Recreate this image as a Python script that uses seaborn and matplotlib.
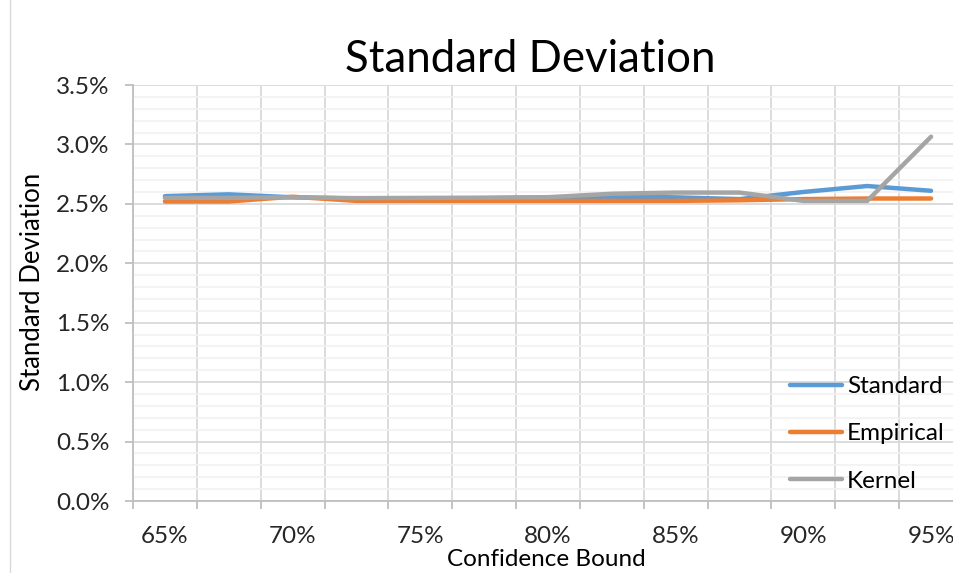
"""Standard deviation by confidence bound, three estimators."""
import numpy as np
import pandas as pd
import matplotlib
matplotlib.use('Agg')
import matplotlib.pyplot as plt
import seaborn as sns
from matplotlib.ticker import MultipleLocator, FixedLocator, FuncFormatter
from matplotlib.lines import Line2D

# confidence bounds in percent, sd as fraction
bounds = [65, 67.5, 70, 72.5, 75, 77.5, 80, 82.5, 85, 87.5, 90, 92.5, 95]
standard = [0.02565, 0.0258, 0.02555, 0.02545, 0.02545, 0.02548, 0.02552,
            0.0256, 0.02555, 0.0254, 0.0260, 0.0265, 0.0261]
empirical = [0.0252, 0.0252, 0.0256, 0.02525, 0.02525, 0.02525, 0.02525,
             0.02525, 0.02525, 0.0253, 0.0254, 0.02545, 0.02545]
kernel = [0.0255, 0.0255, 0.02555, 0.02548, 0.0255, 0.02552, 0.02556,
          0.02585, 0.02595, 0.02595, 0.02525, 0.02525, 0.03065]
methods = ['Standard', 'Empirical', 'Kernel']
colors = ['#5B9BD5', '#ED7D31', '#A5A5A5']

df = pd.DataFrame({
    'bound': bounds * 3,
    'sd': standard + empirical + kernel,
    'method': [m for m in methods for _ in bounds],
})

sns.set_style('white')
plt.rcParams['font.family'] = ['Lato', 'DejaVu Sans']
plt.rcParams['text.color'] = '#000000'

fig = plt.figure(figsize=(9.54, 5.73), dpi=100)
ax = fig.add_axes([133 / 954, 72 / 573, 830 / 954, 416 / 573])

sns.lineplot(data=df, x='bound', y='sd', hue='method', hue_order=methods,
             palette=colors, linewidth=3.2, ax=ax, legend=False)

ax.set_xlim(63.75, 96.25)
ax.set_ylim(0, 0.035)
ax.yaxis.set_major_locator(MultipleLocator(0.005))
ax.yaxis.set_minor_locator(MultipleLocator(0.001))
ax.yaxis.set_major_formatter(FuncFormatter(lambda v, p: f'{v * 100:.1f}%'))
ax.xaxis.set_major_locator(FixedLocator([65, 70, 75, 80, 85, 90, 95]))
ax.xaxis.set_minor_locator(FixedLocator(list(np.arange(63.75, 97, 2.5))))
ax.xaxis.set_major_formatter(FuncFormatter(lambda v, p: f'{v:.0f}%'))

ax.set_axisbelow(True)
ax.grid(which='major', axis='y', color='#D9D9D9', lw=1.3)
ax.grid(which='minor', axis='y', color='#F2F2F2', lw=1.3)
ax.grid(which='minor', axis='x', color='#D9D9D9', lw=1.3)
ax.grid(which='major', axis='x', visible=False)

for s in ['top', 'right']:
    ax.spines[s].set_visible(False)
for s in ['left', 'bottom']:
    ax.spines[s].set_color('#BFBFBF')
    ax.spines[s].set_linewidth(1.3)

ax.tick_params(axis='y', which='major', length=6, width=1.3, color='#BFBFBF',
               direction='out', labelsize=17.5, pad=11, left=True)
ax.tick_params(axis='y', which='minor', length=0)
ax.tick_params(axis='x', which='major', length=0, labelsize=17.5, pad=18)
ax.tick_params(axis='x', which='minor', length=6, width=1.3, color='#BFBFBF',
               direction='out', bottom=True)
ax.set_xlabel('')
ax.set_ylabel('')

fig.text(530 / 954, 1 - 60 / 573, 'Standard Deviation', fontsize=31.5,
         ha='center', va='center')
fig.text(546 / 954, 1 - 560 / 573, 'Confidence Bound', fontsize=17.5,
         ha='center', va='center')
fig.text(33 / 954, 1 - 282 / 573, 'Standard Deviation', fontsize=18.5,
         ha='center', va='center', rotation=90)

ax.legend(ax.lines[:3], methods, loc='upper left',
          bbox_to_anchor=(790 / 954, 1 - 376 / 573),
          bbox_transform=fig.transFigure, frameon=False, fontsize=17.5,
          handlelength=2.15, handletextpad=0.2, labelspacing=1.08,
          borderpad=0, borderaxespad=0)

# faint chart-area border on the left
fig.add_artist(Line2D([10 / 954, 10 / 954], [0, 1], color='#D9D9D9', lw=1,
                      transform=fig.transFigure))

fig.savefig('out.png', dpi=100)
